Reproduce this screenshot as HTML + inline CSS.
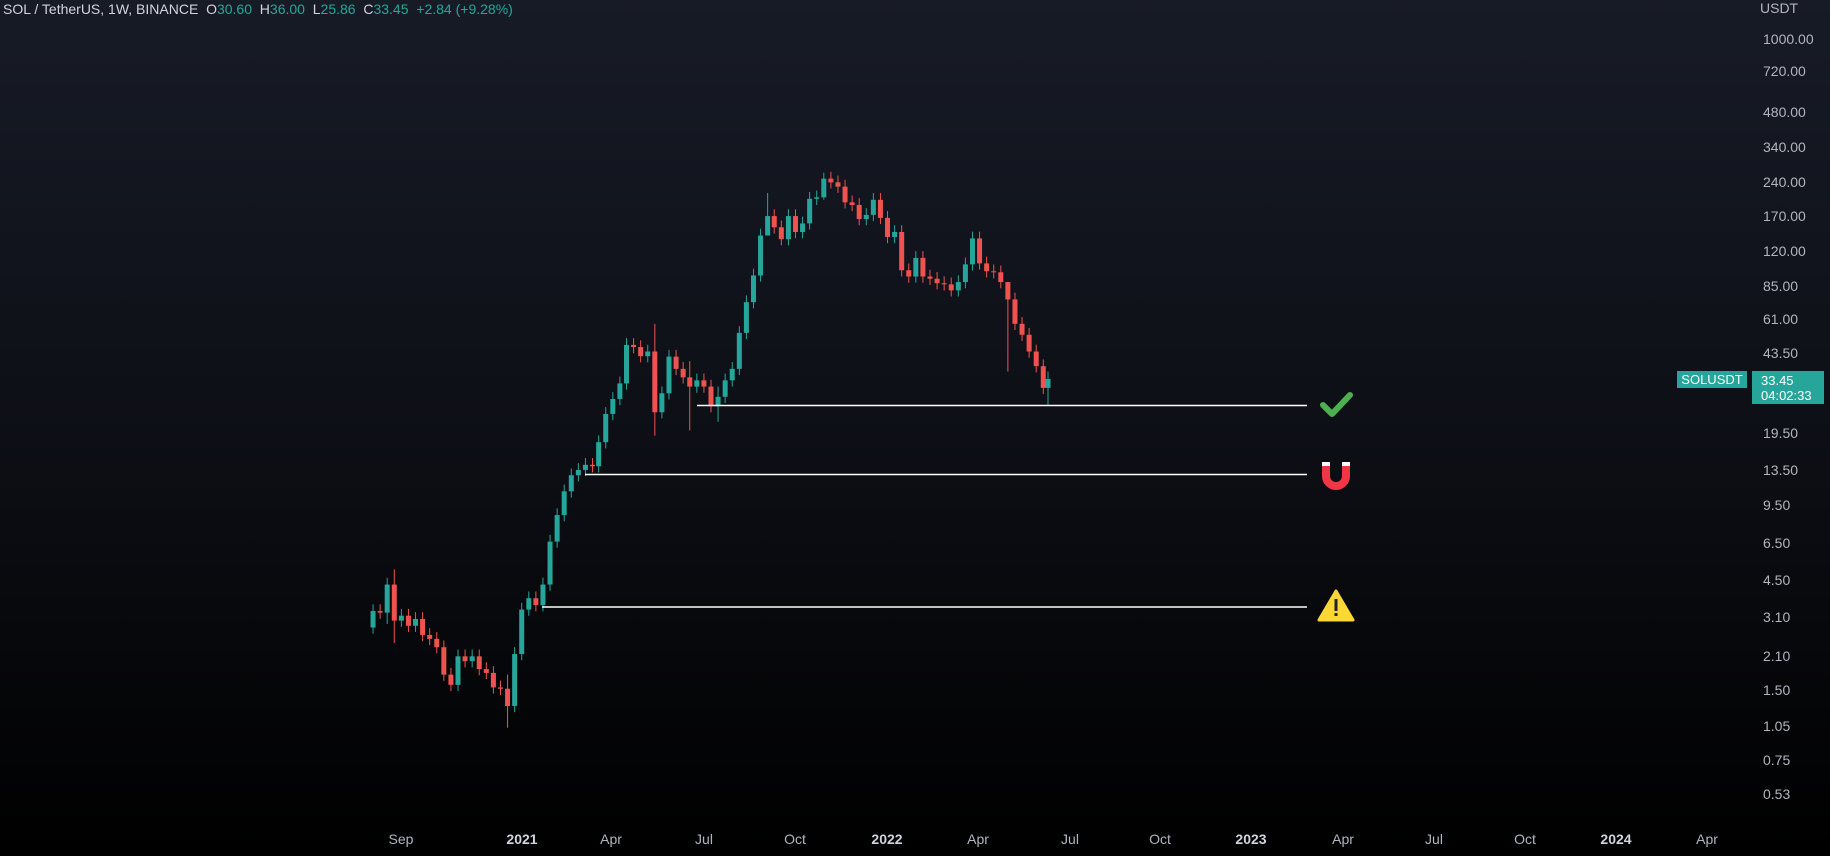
<!DOCTYPE html>
<html><head><meta charset="utf-8"><style>
html,body{margin:0;padding:0;width:1830px;height:856px;overflow:hidden;background:linear-gradient(#171b26,#0c0e14 55%,#000);font-family:"Liberation Sans",sans-serif;}
#c{position:absolute;left:0;top:0}
.t{position:absolute;color:#b2b5be;font-size:14px;white-space:nowrap}
.yl{position:absolute;left:1763px;color:#b2b5be;font-size:14px;transform:translateY(-50%)}
.xl{position:absolute;top:831px;color:#b2b5be;font-size:14px;transform:translateX(-50%)}
</style></head><body>
<svg id="c" width="1830" height="856"></svg>
<div class="t" style="left:3px;top:1px;font-size:14px;color:#d1d4dc">SOL / TetherUS, 1W, BINANCE&nbsp; O<span style="color:#26a69a">30.60</span>&nbsp; H<span style="color:#26a69a">36.00</span>&nbsp; L<span style="color:#26a69a">25.86</span>&nbsp; C<span style="color:#26a69a">33.45</span>&nbsp; <span style="color:#26a69a">+2.84 (+9.28%)</span></div>
<div class="t" style="left:1760px;top:0px">USDT</div>
<div id="yl"></div>
<div class="xl" style="left:401px">Sep</div>
<div class="xl" style="left:522px;color:#d1d4dc;font-weight:bold">2021</div>
<div class="xl" style="left:611px">Apr</div>
<div class="xl" style="left:704px">Jul</div>
<div class="xl" style="left:795px">Oct</div>
<div class="xl" style="left:887px;color:#d1d4dc;font-weight:bold">2022</div>
<div class="xl" style="left:978px">Apr</div>
<div class="xl" style="left:1070px">Jul</div>
<div class="xl" style="left:1160px">Oct</div>
<div class="xl" style="left:1251px;color:#d1d4dc;font-weight:bold">2023</div>
<div class="xl" style="left:1343px">Apr</div>
<div class="xl" style="left:1434px">Jul</div>
<div class="xl" style="left:1525px">Oct</div>
<div class="xl" style="left:1616px;color:#d1d4dc;font-weight:bold">2024</div>
<div class="xl" style="left:1707px">Apr</div>
<div style="position:absolute;left:1677px;top:371px;width:70px;height:17px;background:#26a69a;color:#fff;font-size:13px;line-height:17px;text-align:center">SOLUSDT</div>
<div style="position:absolute;left:1752px;top:371px;width:72px;height:33px;background:#26a69a;color:#fff;font-size:13px;line-height:15px;padding-left:9px;box-sizing:border-box;padding-top:2px">33.45<br>04:02:33</div>
<script>
var Y=function(p){return 38.5+(6.908-Math.log(p))*100.2;};
var labs=["1000.00","720.00","480.00","340.00","240.00","170.00","120.00","85.00","61.00","43.50","19.50","13.50","9.50","6.50","4.50","3.10","2.10","1.50","1.05","0.75","0.53"];
var h="";labs.forEach(function(l){h+='<div class="yl" style="top:'+Y(parseFloat(l))+'px">'+l+'</div>';});
document.getElementById('yl').innerHTML=h;
var d=[[70,3.3],[85,3.25],[100,4.3],[115,3.0],[130,3.15],[145,2.85],[160,3.05],[175,2.6],[190,2.5],[205,2.3],[220,1.75],[235,1.58],[250,2.1],[265,2.0],[280,2.1],[295,1.85],[310,1.78],[325,1.54],[340,1.52],[355,1.28],[370,2.15],[385,3.35],[400,3.75],[415,3.5],[430,4.3],[445,6.6],[460,8.6],[475,10.9],[490,12.8],[505,13.5],[520,14.2],[535,14.0],[548,17.8],[563,23.6],[578,27.4],[593,32],[607,47],[622,46],[637,42],[652,44],[667,24],[682,29],[697,41.8],[712,37],[727,34],[741,31],[756,33],[771,31],[786,25.5],[801,28],[816,33],[831,37],[846,53],[861,72],[876,94],[891,140],[906,170],[920,152],[935,135],[950,170],[965,145],[980,158],[995,202],[1010,205],[1025,247],[1040,238],[1055,228],[1070,195],[1085,190],[1100,165],[1115,172],[1130,200],[1145,167],[1160,138],[1175,145],[1190,99],[1205,93],[1220,112],[1235,93],[1250,91],[1265,87],[1280,86],[1295,81],[1310,88],[1325,105],[1340,136],[1355,106],[1370,98],[1385,97],[1400,88],[1415,74],[1430,58],[1445,52],[1460,44],[1475,38],[1490,30.6],[1500,33.45]];
var ov={115:[5.0,2.4],355:[1.75,1.03],485:[18.5,11],667:[58,19],741:[40,20],801:[31,21.8],906:[214,150],1025:[262,200],1500:[36,25.86],1415:[88,36],100:[4.6,2.9]};
var s="",o=2.8;
d.forEach(function(r,i){var x=340+r[0]*0.472,c=r[1];var hi=Math.max(o,c)*1.07,lo=Math.min(o,c)*0.94;
if(ov[r[0]]){hi=ov[r[0]][0];lo=ov[r[0]][1];}
var col=c>=o?"#26a69a":"#ef5350";var y1=Y(Math.max(o,c)),y2=Y(Math.min(o,c));if(y2-y1<1)y2=y1+1;
s+='<line x1="'+x+'" x2="'+x+'" y1="'+Y(hi)+'" y2="'+Y(lo)+'" stroke="'+col+'" stroke-width="1"/>';
s+='<rect x="'+(x-2.5)+'" y="'+y1+'" width="5" height="'+(y2-y1)+'" fill="'+col+'"/>';o=c;});
s+='<line x1="697" x2="1307" y1="405.5" y2="405.5" stroke="#fff" stroke-width="1.5"/>';
s+='<line x1="585" x2="1307" y1="474.5" y2="474.5" stroke="#fff" stroke-width="1.5"/>';
s+='<line x1="542" x2="1307" y1="607" y2="607" stroke="#fff" stroke-width="1.5"/>';
s+='<path d="M1323 405 L1332 414 L1350 395" stroke="#4caf50" stroke-width="6" fill="none" stroke-linecap="round" stroke-linejoin="round"/>';
s+='<path d="M1326 463 V476 A10 10 0 0 0 1346 476 V463" stroke="#f23645" stroke-width="8" fill="none"/>';
s+='<rect x="1322" y="462" width="8" height="4" fill="#ffffff"/><rect x="1342" y="462" width="8" height="4" fill="#ffffff"/>';
s+='<path d="M1336 591 L1353 620 L1319 620 Z" fill="#fdd835" stroke="#fdd835" stroke-width="3" stroke-linejoin="round"/>';
s+='<rect x="1334.5" y="599" width="3" height="12" fill="#222"/><rect x="1334.5" y="613" width="3" height="3" fill="#222"/>';
document.getElementById('c').innerHTML=s;
</script>
</body></html>
